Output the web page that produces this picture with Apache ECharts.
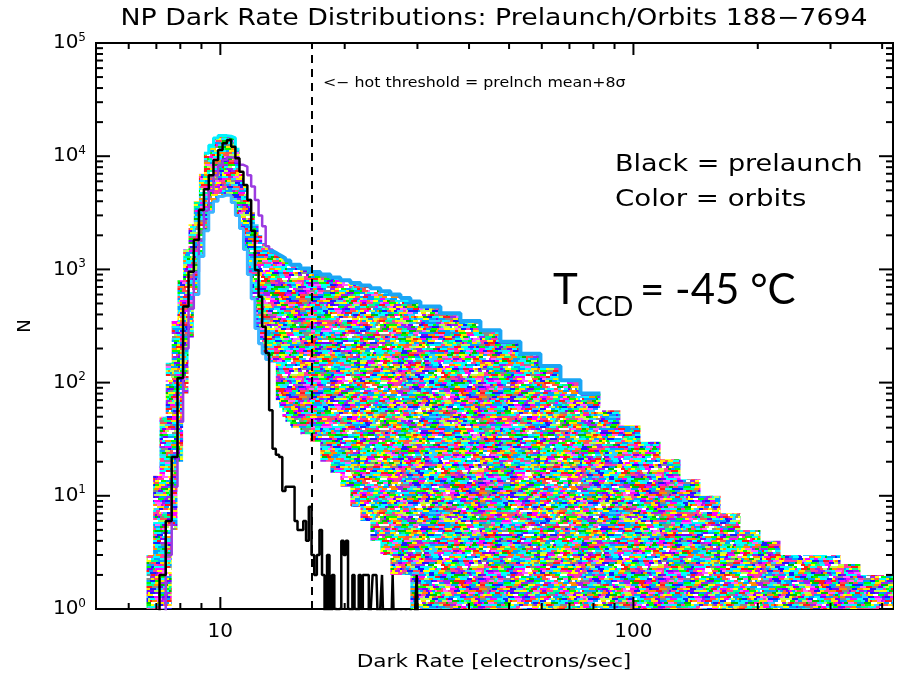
<!DOCTYPE html>
<html><head><meta charset="utf-8">
<script src="https://cdn.jsdelivr.net/npm/echarts@6/dist/echarts.min.js"></script>
<style>html,body{margin:0;padding:0;background:#fff}#c{width:900px;height:676px}</style>
</head><body><div id="c"></div>
<script>
// ---------------- data ----------------
// Prelaunch histogram (black): left bin edges [e/s] and counts N
const blackRate = [7.125,7.375,7.625,7.875,8.125,8.375,8.625,8.875,9.125,9.375,9.625,9.875,10.125,10.375,10.625,10.875,11.125,11.375,11.625,11.875,12.125,12.375,12.625,12.875,13.125,13.375,13.625,13.875,14.125,14.375,14.625,14.875,15.125,15.375,15.625,15.875,16.125,16.375,16.625,16.875,17.125,17.375,17.625,17.875,18.125,18.375,18.625,18.875,19.125,19.375,19.625,19.875,20.125,20.375,20.625,20.875,21.125,21.375,21.625,21.875,22.125,22.375,22.625,22.875,23.125,23.375,23.625,23.875,24.125,24.375,24.625,24.875,25.125,25.375,25.625,25.875,26.125,26.375,26.625,26.875,27.125,27.375,27.625,27.875,28.125,28.375,28.625,28.875,29.125,29.375,29.625,29.875,30.125];
const blackN = [2,6,22,110,470,955,1820,3350,5100,6800,9250,11350,13000,13900,12100,9600,7300,5570,4100,2200,990,574,312,183,57,26,23,22,11,12,12,12,6,5,5,6,4,8,3,2,3,5,2,0,3,0,2,1,0,1,4,3,4,1,0,2,1,0,2,1,2,2,2,0,1,2,2,2,0,1,2,0,1,0,1,0,2,0,1,0,0,1,0,0,1,0,0,1,0,0,1,2,0];
const blackEnd = 30.375;

// Orbit histograms (colour): envelope of all orbits per bin
const bandRate = [6.625,6.875,7.125,7.375,7.625,7.875,8.125,8.375,8.625,8.875,9.125,9.375,9.625,9.875,10.125,10.375,10.625,10.875,11.125,11.375,11.625,11.875,12.125,12.375,12.625,12.875,13.125,13.375,13.625,13.875,14.125,14.375,14.77,15.62,16.51,17.46,18.46,19.52,20.64,21.83,23.08,24.40,25.80,27.29,28.84,30.50,34.10,38.12,42.62,47.64,53.27,59.55,66.58,74.43,83.21,93.0,104.0,116.3,130.0,145.3,162.5,181.6,203.0,227.0,253.8,283.7,317.2,354.6,396.4];
const bandUpper = [3,15,50,150,350,800,1500,2500,4000,7000,10600,12500,14500,15200,15200,15000,14500,11500,7000,5500,4200,3200,2500,2000,1700,1550,1450,1400,1350,1300,1250,1200,1100,1020,950,900,850,800,760,720,680,640,600,560,520,470,410,350,290,230,180,140,105,80,57,42,30,21,14,10,7,5,4,3,3,3,2.5,2,2];
const bandLower = [0,0,0,1,5,20,80,250,600,1300,2200,3200,4000,4400,4540,4500,3900,3000,2300,1500,900,550,300,220,180,160,150,150,70,60,50,45,40,35,30,20,16,12,8,6,4,3,2,2,1,0,0,0,0,0,0,0,0,0,0,0,0,0,0,0,0,0,0,0,0,0,0,0,0];
const bandEnd = 425;

// Outlier orbit (purple)
const purpleRate = [7.375,7.625,7.875,8.125,8.375,8.625,8.875,9.125,9.375,9.625,9.875,10.125,10.375,10.625,10.875,11.125,11.375,11.625,11.875,12.125,12.375,12.625,12.875,13.125,13.375];
const purpleN = [3,12,45,200,450,950,1800,3300,5000,6800,8300,9300,9800,9500,9000,8400,8100,6800,5400,4100,3000,2400,1600,1500,1400];
const purpleEnd = 13.625;

const hotThreshold = 16.65; // prelaunch mean + 8 sigma

// axis ticks
const xMajorTicks = [10, 100];
const xMinorTicks = [6,7,8,9,20,30,40,50,60,70,80,90,200,300,400];
const yMajorTicks = [1,10,100,1000,10000,100000];
const yMinorTicks = [2,3,4,5,6,7,8,9,20,30,40,50,60,70,80,90,200,300,400,500,600,700,800,900,2000,3000,4000,5000,6000,7000,8000,9000,20000,30000,40000,50000,60000,70000,80000,90000];

// ---------------- helpers ----------------
const FLOOR = 0.5; // zero counts fall below the log axis and are clipped
const FONT = 'DejaVu Sans';
function histData(edges, counts, endEdge, closeEnd) {
  const d = [[edges[0], FLOOR]];
  for (let i = 0; i < edges.length; i++) d.push([edges[i], counts[i] > 0 ? counts[i] : FLOOR]);
  const last = counts[counts.length - 1];
  d.push([endEdge, last > 0 ? last : FLOOR]);
  if (closeEnd) d.push([endEdge, FLOOR]);
  return d;
}
function sliceHist(edges, counts, i0, i1) {
  const d = [];
  for (let i = i0; i <= i1; i++) d.push([edges[i], counts[i] > 0 ? counts[i] : FLOOR]);
  d.push([edges[i1 + 1], counts[i1] > 0 ? counts[i1] : FLOOR]);
  return d;
}
function hash(a, b) {
  let h = Math.imul(a + 17, 374761393) ^ Math.imul(b + 5, 668265263);
  h = Math.imul(h ^ (h >>> 13), 1274126177);
  return (h ^ (h >>> 16)) >>> 0;
}
function makePattern() {
  const c = document.createElement('canvas');
  const W = 180, H = 96, rh = 2;
  c.width = W; c.height = H;
  const ctx = c.getContext('2d');
  ctx.fillStyle = '#fff'; ctx.fillRect(0, 0, W, H);
  const pal = ['#00ffff','#ff00ff','#00ff00','#ffff00','#ff1a1a','#1a1aff','#ff8c00','#a020f0','#b8ff50','#888888',
               '#00a0ff','#ff3ca0','#00c000','#ffffff','#00ffff','#ff60ff','#7a00ff','#00ff90','#00a0ff','#ffe000',
               '#30d0ff','#ff5050'];
  for (let j = 0; j < H / rh; j++) {
    let x = 0, k = 0;
    while (x < W) {
      const h = hash(k, j);
      let w = 2 + (h >>> 8) % 6;
      if (x + w > W) w = W - x;
      ctx.fillStyle = pal[h % pal.length];
      ctx.fillRect(x, j * rh, w, rh);
      x += w; k++;
    }
  }
  return c;
}
const pattern = { image: makePattern(), repeat: 'repeat' };

function renderBand(params, api) {
  const n = bandRate.length;
  const pts = [];
  for (let i = 0; i < n; i++) {
    const x0 = bandRate[i], x1 = i + 1 < n ? bandRate[i + 1] : bandEnd;
    const y = Math.max(bandUpper[i], 1);
    pts.push(api.coord([x0, y]), api.coord([x1, y]));
  }
  for (let i = n - 1; i >= 0; i--) {
    const x0 = bandRate[i], x1 = i + 1 < n ? bandRate[i + 1] : bandEnd;
    const y = Math.max(bandLower[i], 1);
    pts.push(api.coord([x1, y]), api.coord([x0, y]));
  }
  return { type: 'polygon', shape: { points: pts }, style: { fill: pattern } };
}
function renderTicks(params, api) {
  const cs = params.coordSys;
  const L = cs.x, R = cs.x + cs.width, T = cs.y, B = cs.y + cs.height;
  const ch = [];
  const seg = (x1, y1, x2, y2) => ch.push({ type: 'line', shape: { x1, y1, x2, y2 }, style: { stroke: '#000', lineWidth: 2 } });
  xMajorTicks.forEach(v => { const p = api.coord([v, 1])[0]; seg(p, B, p, B - 12); seg(p, T, p, T + 12); });
  xMinorTicks.forEach(v => { const p = api.coord([v, 1])[0]; seg(p, B, p, B - 6); seg(p, T, p, T + 6); });
  yMajorTicks.forEach(v => { const p = api.coord([10, v])[1]; seg(L, p, L + 14, p); seg(R, p, R - 14, p); });
  yMinorTicks.forEach(v => { const p = api.coord([10, v])[1]; seg(L, p, L + 7, p); seg(R, p, R - 7, p); });
  return { type: 'group', children: ch };
}
function label(text, x, y, size, sx, align) {
  return { type: 'text', x, y, scaleX: sx, style: { text, font: size + 'px "DejaVu Sans"', fill: '#000', align: align || 'left', verticalAlign: 'middle' } };
}

const chart = echarts.init(document.getElementById('c'), null, { renderer: 'canvas' });
chart.setOption({
  animation: false,
  backgroundColor: '#fff',
  grid: { left: 96, right: 7, top: 43, bottom: 67, show: true, borderColor: '#000', borderWidth: 2 },
  xAxis: {
    type: 'log', logBase: 10, min: 5, max: 425,
    axisLine: { lineStyle: { color: '#000', width: 2 } },
    axisTick: { show: false }, splitLine: { show: false }, minorTick: { show: false },
    axisLabel: { color: '#000', fontSize: 20, fontFamily: FONT, margin: 13,
      formatter: v => { const r = Math.round(v); return (r === 10 || r === 100) ? String(r) : ''; } }
  },
  yAxis: {
    type: 'log', logBase: 10, min: 1, max: 100000,
    axisLine: { lineStyle: { color: '#000', width: 2 } },
    axisTick: { show: false }, splitLine: { show: false }, minorTick: { show: false },
    axisLabel: { color: '#000', margin: 10,
      formatter: v => '{b|10}{e|' + Math.round(Math.log10(v)) + '}',
      rich: { b: { fontSize: 20, fontFamily: FONT, color: '#000' },
              e: { fontSize: 12, fontFamily: FONT, color: '#000', padding: [0, 0, 11, 0] } } },
    name: 'N', nameLocation: 'middle', nameGap: 62, nameRotate: 90,
    nameTextStyle: { color: '#000', fontSize: 18, fontFamily: FONT }
  },
  graphic: [
    label('NP Dark Rate Distributions: Prelaunch/Orbits 188\u22127694', 494, 19, 23, 1.165, 'center'),
    label('<\u2212 hot threshold = prelnch mean+8\u03c3', 323, 83, 14, 1.13),
    label('Black = prelaunch', 615, 165, 23, 1.175),
    label('Color = orbits', 615, 200, 23, 1.2),
    label('Dark Rate [electrons/sec]', 494, 662, 18, 1.2, 'center'),
    { type: 'text', x: 553, y: 290, style: { text: 'T', font: '42px Lato', fill: '#000', align: 'left', verticalAlign: 'middle' } },
    { type: 'text', x: 577, y: 307, style: { text: 'CCD', font: '27px Lato', fill: '#000', align: 'left', verticalAlign: 'middle' } },
    { type: 'text', x: 640, y: 290, style: { text: '= -45 \u00b0C', font: '42px Lato', fill: '#000', align: 'left', verticalAlign: 'middle' } }
  ],
  series: [
    { name: 'orbits', type: 'custom', renderItem: renderBand, data: [[10, 100]], clip: true, silent: true, z: 1 },
    { name: 'orbit outlier', type: 'line', step: 'end', showSymbol: false, data: histData(purpleRate, purpleN, purpleEnd, false),
      lineStyle: { color: '#9b3be0', width: 2.5 }, z: 2, silent: true },
    { name: 'orbit peak top', type: 'line', step: 'end', showSymbol: false, data: sliceHist(bandRate, bandUpper, 10, 17),
      lineStyle: { color: '#00f0ff', width: 3 }, z: 3, silent: true },
    { name: 'latest orbit inner', type: 'line', step: 'end', showSymbol: false, data: sliceHist(bandRate, bandLower, 8, 25),
      lineStyle: { color: '#3cb4ff', width: 3 }, z: 3, silent: true },
    { name: 'latest orbit tail', type: 'line', step: 'end', showSymbol: false, data: sliceHist(bandRate, bandUpper, 26, 53),
      lineStyle: { color: '#1aa6f5', width: 4 }, z: 3, silent: true },
    { name: 'prelaunch', type: 'line', step: 'end', showSymbol: false, data: histData(blackRate, blackN, blackEnd, true),
      lineStyle: { color: '#000', width: 2.5 }, z: 4, silent: true,
      markLine: { silent: true, symbol: ['none', 'none'], label: { show: false },
        lineStyle: { color: '#000', width: 2, type: [8, 6] }, data: [{ xAxis: hotThreshold }] } },
    { name: 'ticks', type: 'custom', renderItem: renderTicks, data: [[10, 10]], clip: false, silent: true, z: 10 }
  ]
});
</script></body></html>
